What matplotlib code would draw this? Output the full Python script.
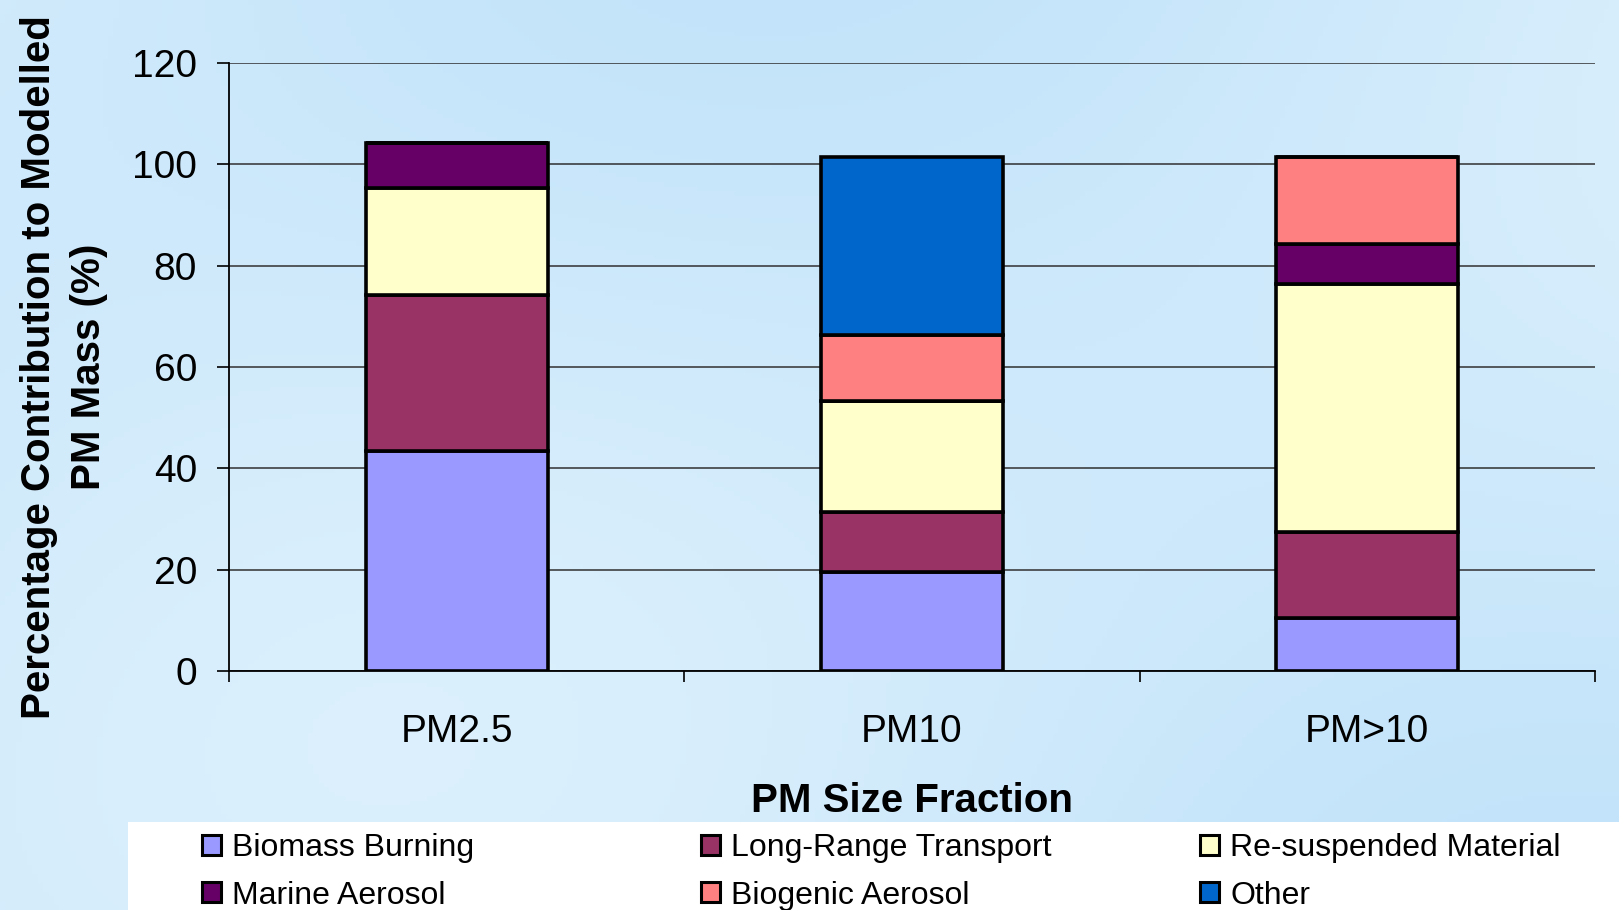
import matplotlib
matplotlib.use("Agg")
import matplotlib.pyplot as plt
import numpy as np
from matplotlib.patches import Rectangle, Patch

plt.rcParams['font.family'] = ['Liberation Sans', 'DejaVu Sans']

# data (percent of modelled PM mass)
fractions = ["PM2.5", "PM10", "PM>10"]
sources = ["Biomass Burning", "Long-Range Transport", "Re-suspended Material",
           "Marine Aerosol", "Biogenic Aerosol", "Other"]
biomass = [43.4, 19.5, 10.5]
long_range = [30.9, 11.9, 16.9]
resuspended = [21.0, 21.9, 49.0]
marine = [8.9, 0.0, 7.9]
biogenic = [0.0, 13.0, 17.1]
other = [0.0, 35.1, 0.0]
colors = ["#9999FF", "#993366", "#FFFFCC", "#660066", "#FF8080", "#0066CC"]

series = [biomass, long_range, resuspended, marine, biogenic, other]

fig = plt.figure(figsize=(16.19, 9.10), dpi=100)

# light blue backdrop
bg = fig.add_axes([0, 0, 1, 1], zorder=-10)
yy, xx = np.mgrid[0:1:200j, 0:1:300j]
shade = 0.5 + 0.25 * np.sin(xx * 5.0 + yy * 2.0) + 0.25 * np.cos(yy * 4.0 - xx * 3.0)
c0 = np.array([0.76, 0.89, 0.98])
c1 = np.array([0.86, 0.94, 0.99])
img = c0[None, None, :] * (1 - shade[..., None]) + c1[None, None, :] * shade[..., None]
bg.imshow(img, extent=[0, 1, 0, 1], aspect='auto', origin='lower')
bg.set_axis_off()

ax = fig.add_axes([229 / 1619, 1 - 671 / 910, (1595 - 229) / 1619, (671 - 63) / 910])
ax.patch.set_alpha(0)

x = np.arange(len(fractions))
bottom = np.zeros(len(fractions))
for vals, col, name in zip(series, colors, sources):
    vals = np.array(vals)
    ax.bar(x, vals, width=0.4, bottom=bottom, color=col, edgecolor='black',
           linewidth=2.6, label=name, zorder=3)
    bottom += vals

ax.set_xlim(-0.5, 2.5)
ax.set_ylim(0, 120)
ax.set_yticks(range(0, 121, 20))
ax.yaxis.grid(True, color='#303030', linewidth=1.1, zorder=0)
ax.set_axisbelow(True)
for s in ['top', 'right']:
    ax.spines[s].set_visible(False)
ax.spines['left'].set_linewidth(1.3)
ax.spines['bottom'].set_linewidth(1.3)

ax.set_xticks(x)
ax.set_xticklabels(fractions)
ax.set_xticks([-0.5, 0.5, 1.5, 2.5], minor=True)
ax.tick_params(axis='x', which='major', length=0, pad=31, labelsize=28)
ax.tick_params(axis='x', which='minor', length=8, width=1.2, direction='out')
ax.tick_params(axis='y', length=9, width=1.2, direction='out', pad=14, labelsize=28)

ax.set_xlabel("PM Size Fraction", fontsize=29, fontweight='bold')
ax.xaxis.label.set_va('center')
ax.xaxis.set_label_coords(0.5, -0.214)
ax.set_ylabel("Percentage Contribution to Modelled\nPM Mass (%)", fontsize=29,
              fontweight='bold', linespacing=1.4)
ax.yaxis.label.set_va('center')
ax.yaxis.set_label_coords(-0.121, 0.5)

# white legend panel
fig.patches.append(Rectangle((128 / 1619, 0), 1 - 128 / 1619, 1 - 822 / 910,
                             transform=fig.transFigure, facecolor='white',
                             edgecolor='none', zorder=1))

handles = [Patch(facecolor=c, edgecolor='black', linewidth=2.2) for c in colors]
groups = [(0, 3), (1, 4), (2, 5)]
lefts = [202, 701, 1200]
for (a, b), lx in zip(groups, lefts):
    leg = fig.legend([handles[a], handles[b]], [sources[a], sources[b]],
                     loc='upper left', bbox_to_anchor=(lx / 1619, 1 - 833 / 910),
                     frameon=False, fontsize=23, handlelength=0.6, handleheight=0.6,
                     handletextpad=0.35, labelspacing=0.55, borderpad=0, borderaxespad=0)
    leg.set_zorder(2)

fig.savefig("out.png", dpi=100)
